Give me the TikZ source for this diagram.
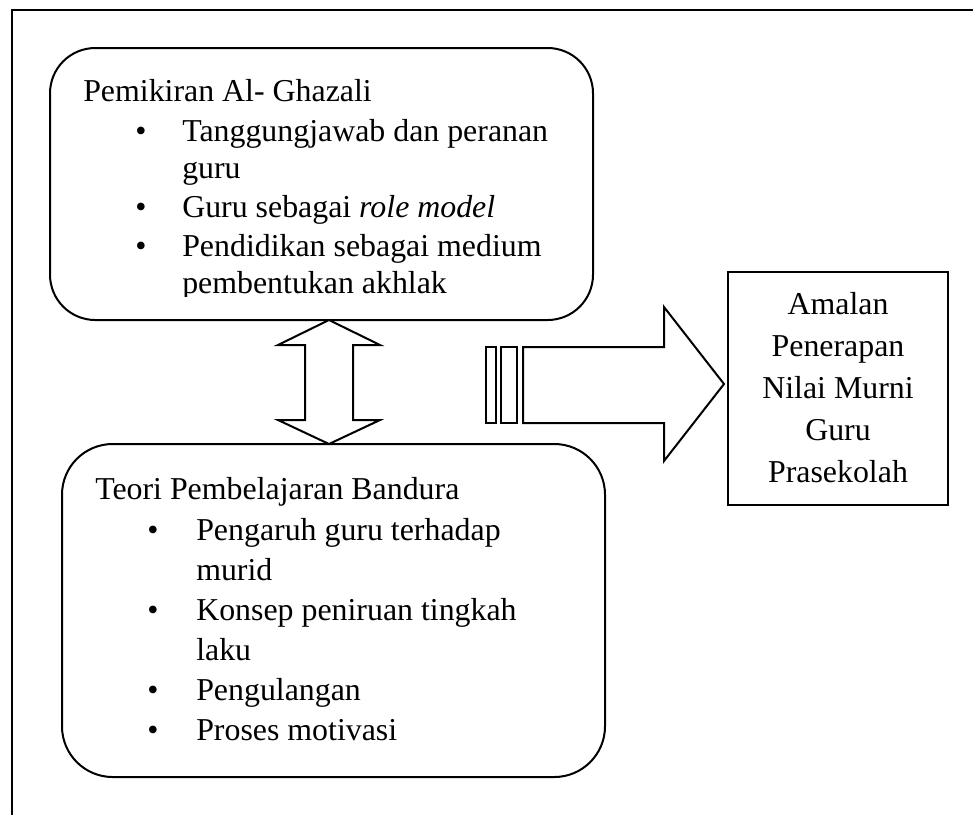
\documentclass[tikz,border=0pt]{standalone}
\usepackage{fontspec}
\setmainfont{Liberation Serif}
\begin{document}
\begin{tikzpicture}[x=0.75pt,y=-0.75pt,
  txt/.style={inner sep=0pt,anchor=base west,font=\fontsize{23.9}{28}\selectfont},
  ctxt/.style={inner sep=0pt,anchor=base,font=\fontsize{23.9}{28}\selectfont},
  bul/.style={inner sep=0pt,anchor=base,font=\fontsize{23.9}{28}\selectfont},
  frame/.style={line width=1.8pt},
  boxline/.style={line width=1.5pt},
  roundbox/.style={draw,boxline,inner sep=0pt,minimum width=407.25pt},
  arrowshape/.style={draw,boxline,fill=white,line join=miter},
]
\useasboundingbox (0,0) rectangle (973,814);
\draw[frame] (12,830) -- (12,10) -- (990,10);

\node[roundbox,rounded corners=34pt,minimum height=204pt] (ghazali) at (321.5,184) {};
\node[roundbox,rounded corners=38pt,minimum height=249.75pt] (bandura) at (333.5,610.5) {};
\node[draw,boxline,inner sep=0pt,minimum width=165pt,minimum height=174.75pt] (amalan) at (838,388.5) {};

% double arrow between the two rounded boxes
\draw[arrowshape] (329,320) -- (380,345) -- (353,345) -- (353,420) -- (380,420)
  -- (329,444) -- (278,420) -- (305,420) -- (305,345) -- (278,345) -- cycle;

% striped block arrow to the right box
\draw[arrowshape] (486,347) rectangle (496,423);
\draw[arrowshape] (501,347) rectangle (517,423);
\draw[arrowshape] (523,347) -- (664,347) -- (664,307) -- (724,384) -- (664,461)
  -- (664,423) -- (523,423) -- cycle;

% text of the first box
\node[txt] (g0) at (83,101) {Pemikiran Al- Ghazali};
\node[bul] (gb1) at (141,141) {•};
\node[txt] (g1) at (182,141) {Tanggungjawab dan peranan};
\node[txt] (g2) at (182,178) {guru};
\node[bul] (gb2) at (141,217) {•};
\node[txt] (g3) at (182,217) {Guru sebagai \textit{role model}};
\node[bul] (gb3) at (141,256) {•};
\node[txt] (g4) at (182,256) {Pendidikan sebagai medium};
\begin{scope}
  \clip (0,0) rectangle (973,296);
  \node[txt] (g5) at (182,293) {pembentukan akhlak};
\end{scope}

% text of the second box
\node[txt] (b0) at (95,499) {Teori Pembelajaran Bandura};
\node[bul] (bb1) at (153,540) {•};
\node[txt] (b1) at (196,540) {Pengaruh guru terhadap};
\node[txt] (b2) at (196,580) {murid};
\node[bul] (bb2) at (153,620) {•};
\node[txt] (b3) at (196,620) {Konsep peniruan tingkah};
\node[txt] (b4) at (196,660) {laku};
\node[bul] (bb3) at (153,700) {•};
\node[txt] (b5) at (196,700) {Pengulangan};
\node[bul] (bb4) at (153,740) {•};
\node[txt] (b6) at (196,740) {Proses motivasi};

% text of the right box
\node[ctxt] (r1) at (838,314) {Amalan};
\node[ctxt] (r2) at (838,356) {Penerapan};
\node[ctxt] (r3) at (838,398) {Nilai Murni};
\node[ctxt] (r4) at (838,440) {Guru};
\node[ctxt] (r5) at (838,482) {Prasekolah};
\end{tikzpicture}
\end{document}
